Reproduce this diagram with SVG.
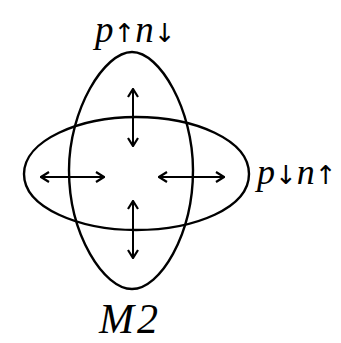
<svg xmlns="http://www.w3.org/2000/svg" width="341" height="343" viewBox="0 0 341 343">
<style>
.sh{fill:none;stroke:#000;stroke-width:2.4}
.ar{fill:none;stroke:#000;stroke-width:2;marker-start:url(#h);marker-end:url(#h)}
.t{font-family:"Liberation Serif","DejaVu Serif",serif;fill:#000}
.i{font-style:italic}
.a{font-family:"DejaVu Sans",sans-serif;font-style:normal;font-size:26px}
</style>
<defs>
<marker id="h" viewBox="0 0 10 12" refX="9" refY="6" markerWidth="10" markerHeight="12" markerUnits="userSpaceOnUse" orient="auto-start-reverse">
<path d="M1,1 L9,6 L1,11" fill="none" stroke="#000" stroke-width="2.2"/>
</marker>
</defs>
<rect width="341" height="343" fill="#fff"/>
<g id="vertical-ellipse">
<path class="sh" d="M132,52 C160,52 193,110 193,170 C193,235 160,289 132,289 C104,289 69,235 69,170 C69,110 104,52 132,52 Z"/>
</g>
<g id="horizontal-ellipse">
<path class="sh" d="M24,174 C24,140 80,117 136,117 C195,117 249,140 249,174 C249,208 195,230 136,230 C80,230 24,208 24,174 Z"/>
</g>
<g id="connectors">
<line class="ar" x1="133" y1="89" x2="133" y2="146"/>
<line class="ar" x1="133" y1="201" x2="133" y2="258"/>
<line class="ar" x1="41" y1="177" x2="104" y2="177"/>
<line class="ar" x1="159" y1="177" x2="224" y2="177"/>
</g>
<g id="label-top">
<text class="t" x="95" y="42" font-size="37"><tspan class="i">p</tspan><tspan class="a">↑</tspan><tspan class="i">n</tspan><tspan class="a">↓</tspan></text>
</g>
<g id="label-right">
<text class="t" x="257" y="184" font-size="36"><tspan class="i">p</tspan><tspan class="a">↓</tspan><tspan class="i">n</tspan><tspan class="a">↑</tspan></text>
</g>
<g id="label-bottom">
<text class="t i" x="99" y="333" font-size="42" letter-spacing="3">M2</text>
</g>
</svg>
